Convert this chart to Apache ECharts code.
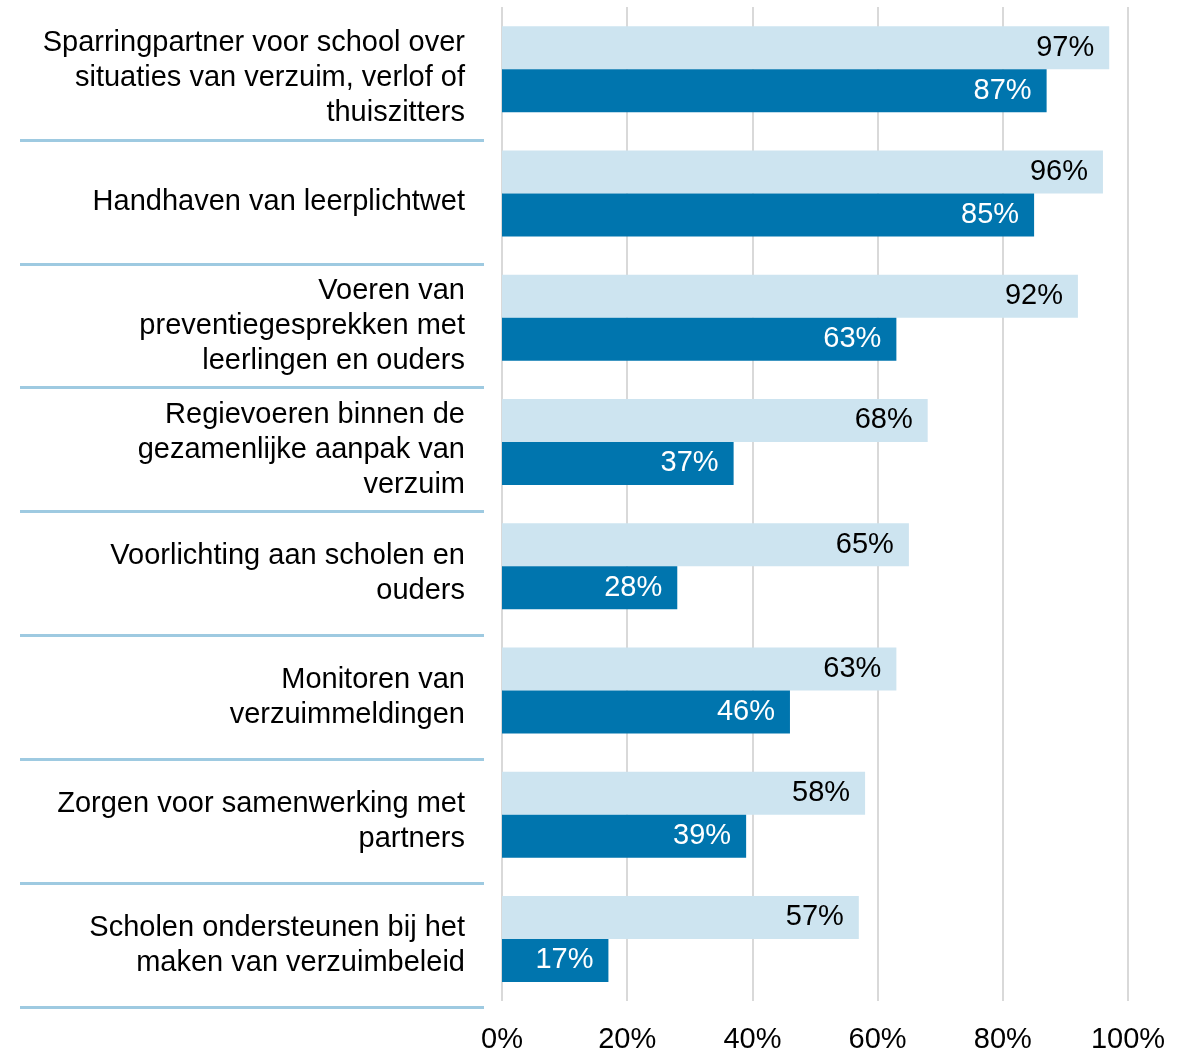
<!DOCTYPE html>
<html>
<head>
<meta charset="utf-8">
<script src="https://cdn.jsdelivr.net/npm/echarts@6/dist/echarts.min.js"></script>
<style>
  html, body { margin: 0; padding: 0; background: #fff; }
  #chart { width: 1193px; height: 1054px; }
</style>
</head>
<body>
<div id="chart"></div>
<script>
var categories = [
    'Sparringpartner voor school over\nsituaties van verzuim, verlof of\nthuiszitters',
    'Handhaven van leerplichtwet',
    'Voeren van\npreventiegesprekken met\nleerlingen en ouders',
    'Regievoeren binnen de\ngezamenlijke aanpak van\nverzuim',
    'Voorlichting aan scholen en\nouders',
    'Monitoren van\nverzuimmeldingen',
    'Zorgen voor samenwerking met\npartners',
    'Scholen ondersteunen bij het\nmaken van verzuimbeleid'
];
var lightValues = [97, 96, 92, 68, 65, 63, 58, 57];
var darkValues = [87, 85, 63, 37, 28, 46, 39, 17];
var xTicks = [0, 20, 40, 60, 80, 100];

var font = "'Liberation Sans', Arial, sans-serif";

var chart = echarts.init(document.getElementById('chart'));
chart.setOption({
    animation: false,
    textStyle: {
        fontFamily: font
    },
    // grid 0: bars, grid 1: category labels + separator lines
    grid: [{
        left: 502,
        right: 65,
        top: 7,
        bottom: 50
    }, {
        left: 484,
        right: 65,
        top: 16,
        bottom: 47
    }],
    xAxis: [{
        type: 'value',
        gridIndex: 0,
        min: xTicks[0],
        max: xTicks[xTicks.length - 1],
        interval: 20,
        axisLine: { show: false },
        axisTick: { show: false },
        axisLabel: {
            formatter: '{value}%',
            fontSize: 29,
            color: '#000',
            margin: 24,
            fontFamily: font
        },
        splitLine: {
            lineStyle: { color: '#d9d9d9', width: 2 }
        }
    }, {
        type: 'value',
        gridIndex: 1,
        show: false
    }],
    yAxis: [{
        type: 'category',
        gridIndex: 0,
        data: categories,
        inverse: true,
        axisLine: { show: false },
        axisTick: { show: false },
        axisLabel: { show: false }
    }, {
        type: 'category',
        gridIndex: 1,
        data: categories,
        inverse: true,
        axisLine: { show: false },
        axisLabel: {
            fontSize: 29,
            lineHeight: 35,
            color: '#000',
            margin: 19,
            align: 'right',
            padding: [5, 0, 0, 0],
            fontFamily: font
        },
        axisTick: {
            show: true,
            length: 464,
            interval: function (index) { return index > 0; },
            lineStyle: { color: '#9ecae1', width: 3 }
        }
    }],
    series: [{
        name: 'light',
        type: 'bar',
        xAxisIndex: 0,
        yAxisIndex: 0,
        data: lightValues,
        barWidth: 43,
        barGap: '0%',
        itemStyle: { color: '#cde4f0' },
        label: {
            show: true,
            position: 'insideRight',
            distance: 15,
            formatter: '{c}%',
            fontSize: 29,
            color: '#000',
            padding: [4, 0, 0, 0],
            fontFamily: font
        }
    }, {
        name: 'dark',
        type: 'bar',
        xAxisIndex: 0,
        yAxisIndex: 0,
        data: darkValues,
        barWidth: 43,
        barGap: '0%',
        itemStyle: { color: '#0075ae' },
        label: {
            show: true,
            position: 'insideRight',
            distance: 15,
            formatter: '{c}%',
            fontSize: 29,
            color: '#fff',
            padding: [4, 0, 0, 0],
            fontFamily: font
        }
    }]
});
</script>
</body>
</html>
